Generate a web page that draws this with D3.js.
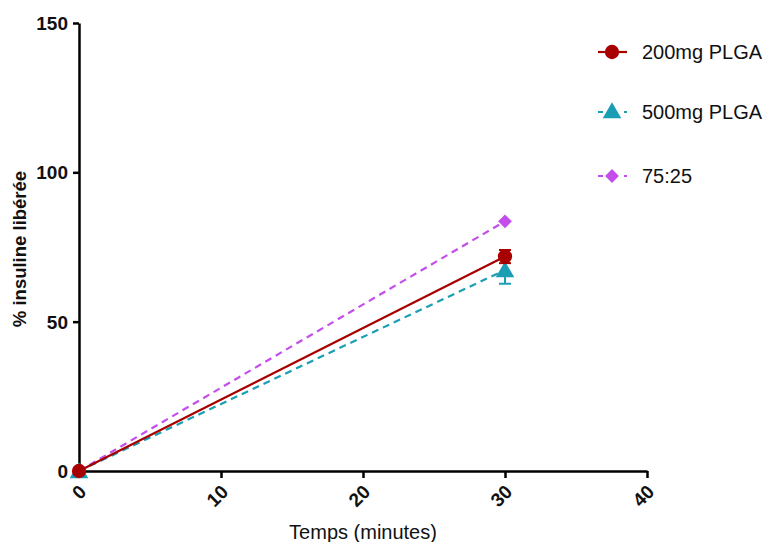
<!DOCTYPE html>
<html><head><meta charset="utf-8">
<script src="https://cdn.jsdelivr.net/npm/d3@7"></script>
<style>body{margin:0;background:#fff}svg{display:block}</style>
</head><body>
<svg id="c" width="771" height="542"></svg>
<script>
const times = [0, 30];
const seriesNames = ["200mg PLGA", "500mg PLGA", "75:25"];
const s200 = [0, 71.8];
const s200err = [0, 2.2];
const s500 = [0, 67.3];
const s500err = [0, 4.6];
const s7525 = [0, 83.6];
const s7525err = [0, 0];
const xTicks = [0, 10, 20, 30, 40];
const yTicks = [0, 50, 100, 150];

const colors = ["#A80000", "#1A9EB4", "#C34EEB"];
const dashes = [null, "7,5", "7,5"];
const symbols = [d3.symbolCircle, d3.symbolTriangle, d3.symbolSquare];
const symSizes = [160, 150, 95];
const symRot = [0, 0, 45];

const svg = d3.select("#c");
const x = d3.scaleLinear().domain([0, 40]).range([79, 647]);
const y = d3.scaleLinear().domain([0, 150]).range([471, 23]);

const font = "Arial, 'Liberation Sans', sans-serif";

// axes
const xAxis = svg.append("g").attr("transform", "translate(0,471)")
  .call(d3.axisBottom(x).tickValues(xTicks).tickSize(7).tickSizeOuter(0).tickFormat(d3.format("d")));
const yAxis = svg.append("g").attr("transform", "translate(79,0)")
  .call(d3.axisLeft(y).tickValues(yTicks).tickSize(6).tickSizeOuter(0).tickFormat(d3.format("d")));
[xAxis, yAxis].forEach(a => {
  a.attr("font-size", null).attr("font-family", null);
  a.select(".domain").attr("stroke", "#000").attr("stroke-width", 2.5);
  a.selectAll(".tick line").attr("stroke", "#000").attr("stroke-width", 2.5);
  a.selectAll("text").attr("fill", "#111").style("font-family", font)
    .style("font-weight", "bold").style("font-size", "19px");
});
xAxis.selectAll(".tick text")
  .attr("text-anchor", "end").attr("dy", null).attr("dx", null).attr("y", null)
  .attr("transform", "translate(8,22) rotate(-45)");
yAxis.selectAll(".tick text").attr("x", -11).attr("dy", "0.35em");

// axis titles
svg.append("text").attr("x", 363).attr("y", 539).attr("text-anchor", "middle")
  .style("font-family", font).style("font-size", "20px").attr("fill", "#111").text("Temps (minutes)");
svg.append("text").attr("transform", "translate(26,249) rotate(-90)").attr("text-anchor", "middle")
  .style("font-family", font).style("font-size", "18.5px").style("font-weight", "bold").attr("fill", "#111")
  .text("% insuline libérée");

const series = [
  {vals: s200, err: s200err},
  {vals: s500, err: s500err},
  {vals: s7525, err: s7525err}
];
const line = d3.line().x(d => x(d.t)).y(d => y(d.v));
const drawOrder = [2, 1, 0];
drawOrder.forEach(i => {
  const s = series[i];
  const pts = times.map((t, k) => ({t, v: s.vals[k], e: s.err[k]}));
  const g = svg.append("g");
  g.append("path").datum(pts).attr("d", line).attr("fill", "none")
    .attr("stroke", colors[i]).attr("stroke-width", 2.2)
    .attr("stroke-dasharray", dashes[i]);
  pts.filter(p => p.e > 0).forEach(p => {
    g.append("line").attr("x1", x(p.t)).attr("x2", x(p.t)).attr("y1", y(p.v - p.e)).attr("y2", y(p.v + p.e))
      .attr("stroke", colors[i]).attr("stroke-width", 2);
    [p.v - p.e, p.v + p.e].forEach(v => g.append("line")
      .attr("x1", x(p.t) - 6).attr("x2", x(p.t) + 6).attr("y1", y(v)).attr("y2", y(v))
      .attr("stroke", colors[i]).attr("stroke-width", 2));
  });
  g.selectAll("path.m").data(pts).enter().append("path").attr("class", "m")
    .attr("transform", p => `translate(${x(p.t)},${y(p.v) + (i === 1 ? 2 : 0)}) rotate(${symRot[i]})`)
    .attr("d", d3.symbol().type(symbols[i]).size(symSizes[i])).attr("fill", colors[i]);
});

// legend
const legY = [52, 112, 176];
seriesNames.forEach((n, i) => {
  const g = svg.append("g").attr("transform", `translate(0,${legY[i]})`);
  g.append("line").attr("x1", 598).attr("x2", 627).attr("y1", 0).attr("y2", 0)
    .attr("stroke", colors[i]).attr("stroke-width", 2.2).attr("stroke-dasharray", i === 0 ? null : "5,8");
  g.append("path").attr("transform", `translate(612,${i === 1 ? 1 : 0}) rotate(${symRot[i]})`)
    .attr("d", d3.symbol().type(symbols[i]).size(symSizes[i])).attr("fill", colors[i]);
  g.append("text").attr("x", 642).attr("y", 0).attr("dy", "0.35em")
    .style("font-family", font).style("font-size", "20px").attr("fill", "#111").text(n);
});
</script>
</body></html>
